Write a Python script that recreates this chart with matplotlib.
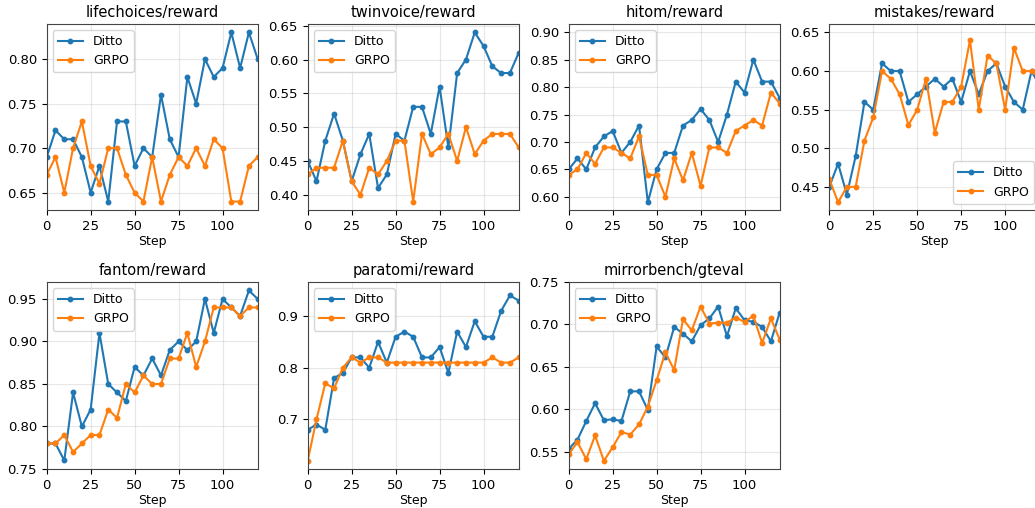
import numpy as np
import matplotlib
matplotlib.use("Agg")
import matplotlib.pyplot as plt

steps = np.arange(0, 125, 5)

titles = ["lifechoices/reward", "twinvoice/reward", "hitom/reward", "mistakes/reward",
          "fantom/reward", "paratomi/reward", "mirrorbench/gteval"]

ditto_lifechoices = [0.69, 0.72, 0.71, 0.71, 0.69, 0.65, 0.68, 0.64, 0.73, 0.73, 0.68, 0.70, 0.69,
                     0.76, 0.71, 0.69, 0.78, 0.75, 0.80, 0.78, 0.79, 0.83, 0.79, 0.83, 0.80]
grpo_lifechoices = [0.67, 0.69, 0.65, 0.70, 0.73, 0.68, 0.66, 0.70, 0.70, 0.67, 0.65, 0.64, 0.69,
                    0.64, 0.67, 0.69, 0.68, 0.70, 0.68, 0.71, 0.70, 0.64, 0.64, 0.68, 0.69]

ditto_twinvoice = [0.45, 0.42, 0.48, 0.52, 0.48, 0.42, 0.46, 0.49, 0.41, 0.43, 0.49, 0.48, 0.53,
                   0.53, 0.49, 0.56, 0.47, 0.58, 0.60, 0.64, 0.62, 0.59, 0.58, 0.58, 0.61]
grpo_twinvoice = [0.43, 0.44, 0.44, 0.44, 0.48, 0.42, 0.40, 0.44, 0.43, 0.45, 0.48, 0.48, 0.39,
                  0.49, 0.46, 0.47, 0.49, 0.45, 0.50, 0.46, 0.48, 0.49, 0.49, 0.49, 0.47]

ditto_hitom = [0.65, 0.67, 0.65, 0.69, 0.71, 0.72, 0.68, 0.70, 0.73, 0.59, 0.65, 0.68, 0.68,
               0.73, 0.74, 0.76, 0.74, 0.70, 0.75, 0.81, 0.79, 0.85, 0.81, 0.81, 0.78]
grpo_hitom = [0.64, 0.65, 0.68, 0.66, 0.69, 0.69, 0.68, 0.67, 0.71, 0.64, 0.64, 0.60, 0.67,
              0.63, 0.68, 0.62, 0.69, 0.69, 0.68, 0.72, 0.73, 0.74, 0.73, 0.79, 0.77]

ditto_mistakes = [0.45, 0.48, 0.44, 0.49, 0.56, 0.55, 0.61, 0.60, 0.60, 0.56, 0.57, 0.58, 0.59,
                  0.58, 0.59, 0.56, 0.60, 0.57, 0.60, 0.61, 0.58, 0.56, 0.55, 0.60, 0.58]
grpo_mistakes = [0.46, 0.43, 0.45, 0.45, 0.51, 0.54, 0.60, 0.59, 0.57, 0.53, 0.55, 0.59, 0.52,
                 0.56, 0.56, 0.58, 0.64, 0.55, 0.62, 0.61, 0.55, 0.63, 0.60, 0.60, 0.59]

ditto_fantom = [0.78, 0.78, 0.76, 0.84, 0.80, 0.82, 0.91, 0.85, 0.84, 0.83, 0.87, 0.86, 0.88,
                0.86, 0.89, 0.90, 0.89, 0.90, 0.95, 0.91, 0.95, 0.94, 0.93, 0.96, 0.95]
grpo_fantom = [0.78, 0.78, 0.79, 0.77, 0.78, 0.79, 0.79, 0.82, 0.81, 0.85, 0.84, 0.86, 0.85,
               0.85, 0.88, 0.88, 0.91, 0.87, 0.90, 0.94, 0.94, 0.94, 0.93, 0.94, 0.94]

ditto_paratomi = [0.68, 0.69, 0.68, 0.78, 0.79, 0.82, 0.82, 0.80, 0.85, 0.81, 0.86, 0.87, 0.86,
                  0.82, 0.82, 0.84, 0.79, 0.87, 0.84, 0.89, 0.86, 0.86, 0.91, 0.94, 0.93]
grpo_paratomi = [0.62, 0.70, 0.77, 0.76, 0.80, 0.82, 0.81, 0.82, 0.82, 0.81, 0.81, 0.81, 0.81,
                 0.81, 0.81, 0.81, 0.81, 0.81, 0.81, 0.81, 0.81, 0.82, 0.81, 0.81, 0.82]

ditto_mirrorbench = [0.553, 0.564, 0.586, 0.607, 0.587, 0.588, 0.586, 0.621, 0.621, 0.599, 0.674,
                     0.661, 0.697, 0.689, 0.680, 0.699, 0.707, 0.721, 0.686, 0.719, 0.705, 0.703,
                     0.697, 0.680, 0.714]
grpo_mirrorbench = [0.547, 0.561, 0.541, 0.569, 0.539, 0.555, 0.573, 0.570, 0.582, 0.603, 0.634,
                    0.667, 0.646, 0.706, 0.693, 0.721, 0.701, 0.702, 0.702, 0.708, 0.703, 0.710,
                    0.678, 0.707, 0.682]

ditto_all = [ditto_lifechoices, ditto_twinvoice, ditto_hitom, ditto_mistakes,
             ditto_fantom, ditto_paratomi, ditto_mirrorbench]
grpo_all = [grpo_lifechoices, grpo_twinvoice, grpo_hitom, grpo_mistakes,
            grpo_fantom, grpo_paratomi, grpo_mirrorbench]

# y ranges
ylims = [(0.6305, 0.8395), (0.3775, 0.6525), (0.576, 0.915), (0.42, 0.661),
         (0.75, 0.97), (0.604, 0.966), (0.5294, 0.75)]
legend_loc = ["upper left", "upper left", "upper left", "lower right",
              "upper left", "upper left", "upper left"]

W, H = 1035, 508
fig = plt.figure(figsize=(W / 100, H / 100), dpi=100)

col_left = [46.7, 307.7, 568.7, 829.3]
ax_w = 211
row_top = [24, 282]
row_bot = [210, 469]

for i, title in enumerate(titles):
    r, c = divmod(i, 4)
    ax = fig.add_axes([col_left[c] / W, 1 - row_bot[r] / H, ax_w / W,
                       (row_bot[r] - row_top[r]) / H])
    ax.plot(steps, ditto_all[i], marker="o", markersize=3.2, lw=1.5, label="Ditto")
    ax.plot(steps, grpo_all[i], marker="o", markersize=3.2, lw=1.5, label="GRPO")
    ax.set_xlim(0, 120)
    ax.set_ylim(*ylims[i])
    ax.set_xticks([0, 25, 50, 75, 100])
    ax.grid(True, alpha=0.3)
    ax.set_title(title, fontsize=10.5, pad=5)
    ax.set_xlabel("Step", fontsize=9, labelpad=1.5)
    ax.tick_params(labelsize=9.5)
    for s in ax.spines.values():
        s.set_color("#444444")
    ax.legend(loc=legend_loc[i], fontsize=9)

fig.savefig("out.png", dpi=100)
